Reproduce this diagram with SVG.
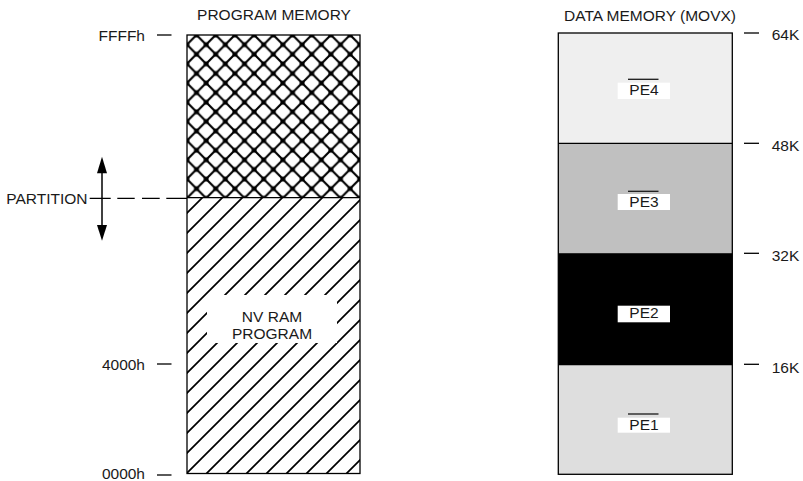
<svg xmlns="http://www.w3.org/2000/svg" width="803" height="481" viewBox="0 0 803 481">
<style>
text{font-family:"Liberation Sans",Arial,sans-serif;font-size:15.5px;fill:#1a1a1a}
.tick{stroke:#000;stroke-width:1.3}
.box{stroke:#000;stroke-width:1.3}
.lbl{fill:#fff}
.ol{stroke:#1a1a1a;stroke-width:1.3}
</style>
<defs>
<pattern id="xh" patternUnits="userSpaceOnUse" x="196.5" y="35" width="19.2" height="19.2">
<rect width="19.2" height="19.2" fill="#fff"/>
<path d="M-2,-2 L21.2,21.2 M21.2,-2 L-2,21.2" stroke="#000" stroke-width="2.2"/>
<circle cx="9.6" cy="9.6" r="2.5" fill="#000"/>
<circle cx="0" cy="0" r="2.5" fill="#000"/>
<circle cx="19.2" cy="0" r="2.5" fill="#000"/>
<circle cx="0" cy="19.2" r="2.5" fill="#000"/>
<circle cx="19.2" cy="19.2" r="2.5" fill="#000"/>
</pattern>
<pattern id="dh" patternUnits="userSpaceOnUse" x="0" y="0" width="20" height="20">
<rect width="20" height="20" fill="#fff"/>
<path d="M-5,25 L25,-5 M-5,5 L5,-5 M15,25 L25,15" stroke="#000" stroke-width="1.7"/>
</pattern>
</defs>

<g id="program-memory">
<text x="274" y="19.5" text-anchor="middle">PROGRAM MEMORY</text>
<rect x="187" y="35" width="173" height="162.7" fill="url(#xh)"/>
<rect x="187" y="197.7" width="173" height="275.8" fill="url(#dh)"/>
<rect x="207" y="295" width="130" height="48" fill="#fff"/>
<text x="272" y="321.7" text-anchor="middle">NV RAM</text>
<text x="272" y="339.3" text-anchor="middle">PROGRAM</text>
<line x1="187" y1="197.7" x2="360" y2="197.7" class="box"/>
<rect x="187" y="35" width="173" height="438.5" fill="none" class="box"/>
</g>

<g id="address-labels">
<line x1="157" y1="35" x2="171.5" y2="35" class="tick"/>
<text x="145" y="40.5" text-anchor="end">FFFFh</text>
<line x1="157" y1="364" x2="171.5" y2="364" class="tick"/>
<text x="145" y="369.5" text-anchor="end">4000h</text>
<line x1="157" y1="475" x2="171.5" y2="475" class="tick"/>
<text x="145" y="479" text-anchor="end">0000h</text>
<text x="87.5" y="204" text-anchor="end">PARTITION</text>
</g>

<g id="connectors">
<path d="M89.7,198.3 H110.7 M117.3,198.3 H134.7 M142,198.3 H159.7 M166.3,198.3 H187" stroke="#000" stroke-width="1.3" fill="none"/>
<line x1="102" y1="165" x2="102" y2="233" stroke="#000" stroke-width="1.5"/>
<polygon points="102,156.7 97,173.3 107,173.3" fill="#000"/>
<polygon points="102,240.7 97,225 107,225" fill="#000"/>
</g>

<g id="data-memory">
<text x="650" y="20.5" text-anchor="middle">DATA MEMORY (MOVX)</text>
<g id="pe4">
<rect x="558.3" y="33" width="174" height="110.3" fill="#efefef"/>
<rect x="617.7" y="82.7" width="52.3" height="16.3" class="lbl"/>
<line x1="628" y1="79.3" x2="658.5" y2="79.3" class="ol"/>
<text x="644" y="95" text-anchor="middle">PE4</text>
</g>
<g id="pe3">
<rect x="558.3" y="143.3" width="174" height="110.5" fill="#c0c0c0"/>
<rect x="617.7" y="194" width="52.3" height="16" class="lbl"/>
<line x1="628" y1="191.3" x2="658.5" y2="191.3" class="ol"/>
<text x="644" y="207.3" text-anchor="middle">PE3</text>
</g>
<g id="pe2">
<rect x="558.3" y="253.8" width="174" height="110.7" fill="#000"/>
<rect x="617.7" y="305.7" width="52.3" height="16.6" class="lbl"/>
<text x="644" y="318.3" text-anchor="middle">PE2</text>
</g>
<g id="pe1">
<rect x="558.3" y="364.5" width="174" height="109.8" fill="#dedede"/>
<rect x="617.7" y="417.7" width="52.3" height="15" class="lbl"/>
<line x1="628" y1="414" x2="658.5" y2="414" class="ol"/>
<text x="644" y="430" text-anchor="middle">PE1</text>
</g>
<line x1="558.3" y1="143.3" x2="732.3" y2="143.3" class="box"/>
<line x1="558.3" y1="253.8" x2="732.3" y2="253.8" class="box"/>
<line x1="558.3" y1="364.5" x2="732.3" y2="364.5" class="box"/>
<rect x="558.3" y="33" width="174" height="441.3" fill="none" class="box"/>
</g>

<g id="size-labels">
<line x1="744" y1="33" x2="759" y2="33" class="tick"/>
<text x="771.7" y="39.8">64K</text>
<line x1="744" y1="143.3" x2="759" y2="143.3" class="tick"/>
<text x="771.7" y="151.3">48K</text>
<line x1="744" y1="253.3" x2="759" y2="253.3" class="tick"/>
<text x="771.7" y="261.3">32K</text>
<line x1="744" y1="364.3" x2="759" y2="364.3" class="tick"/>
<text x="771.7" y="372.5">16K</text>
</g>
</svg>
